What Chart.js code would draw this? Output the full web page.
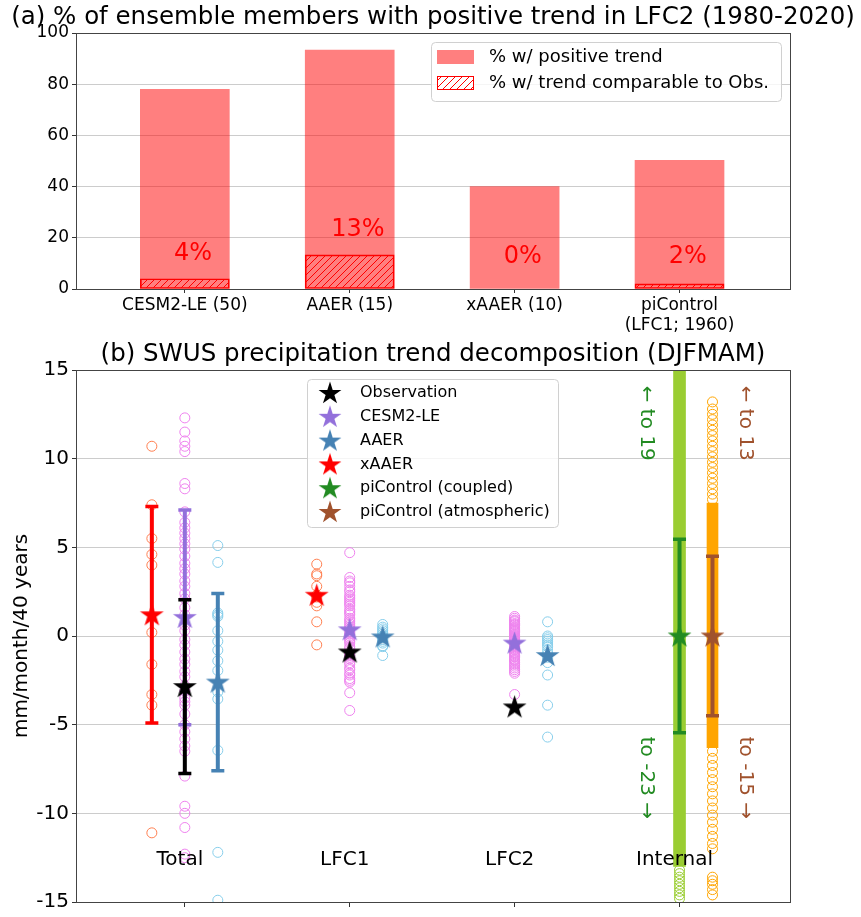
<!DOCTYPE html>
<html>
<head>
<meta charset="utf-8">
<script src="https://cdn.jsdelivr.net/npm/chart.js@4.4.1/dist/chart.umd.min.js"></script>
<style>
    html, body { margin: 0; padding: 0; background: #fff; }
    #wrap { position: relative; width: 861px; height: 917px; }
    #top-chart { position: absolute; left: 0; top: 0; }
    #bottom-chart { position: absolute; left: 0; top: 335px; }
</style>
</head>
<body>
<div id="wrap">
    <canvas id="top-chart" width="861" height="335"></canvas>
    <canvas id="bottom-chart" width="861" height="582"></canvas>
</div>
<script>
// Panel (a) - % of members with positive LFC2 trend
const models = ['CESM2-LE (50)', 'AAER (15)', 'xAAER (10)', ['piControl', '(LFC1; 1960)']];
const pctPositive = [78, 93.3, 40, 50.3];
const pctComparable = [4, 13.3, 0, 2];

// Panel (b) - trend decomposition
const components = ['Total', 'LFC1', 'LFC2', 'Internal'];

// ensemble members (Total / LFC1 / LFC2)
const xaaerTotal = [10.7, 7.4, 5.5, 4.6, 4.0, 0.2, -1.6, -3.3, -3.9, -11.1];
const xaaerLfc1 = [4.05, 3.5, 3.4, 2.8, 2.3, 2.2, 1.9, 1.7, 0.8, -0.5];

const cesmTotal = [12.3, 11.5, 11.0, 10.7, 10.4, 8.6, 8.3, 7.0, 6.4, 6.1,
    5.8, 5.5, 5.2, 4.9, 4.5, 4.1, 3.8, 3.5, 3.1, 2.8,
    2.4, 2.1, 1.6, 1.2, 0.6, 0.3, -0.2, -0.5, -0.9, -1.3,
    -1.6, -2.0, -2.3, -2.8, -3.1, -3.5, -3.7, -3.9, -4.4, -5.0,
    -5.4, -5.8, -6.2, -6.5, -7.9, -9.6, -10.0, -10.8, -12.3, -12.5];
const cesmLfc1 = [4.7, 3.3, 3.1, 3.0, 2.8, 2.6, 2.5, 2.3, 2.2, 2.0,
    1.8, 1.7, 1.5, 1.3, 1.2, 1.0, 0.8, 0.7, 0.5, 0.4,
    0.2, 0.1, 0.0, -0.1, -0.3, -0.4, -0.6, -0.7, -0.9, -1.0,
    -1.2, -1.3, -1.5, -1.6, -1.8, -1.9, -2.1, -2.2, -2.4, -2.5,
    -2.6, -3.2, -4.2, 0.9, 1.4, -0.2, 0.6, -1.1, 2.1, 1.9];
const cesmLfc2 = [1.1, 1.0, 0.9, 0.8, 0.7, 0.6, 0.5, 0.4, 0.3, 0.2,
    0.1, 0.0, -0.1, -0.2, -0.3, -0.4, -0.5, -0.6, -0.7, -0.8,
    -0.9, -1.0, -1.1, -1.2, -1.3, -1.4, -1.5, -1.6, -1.7, -1.8,
    -1.9, -2.0, -2.1, -3.3, 0.85, 0.65, 0.45, 0.25, 0.05, -0.15,
    -0.35, -0.55, -0.75, -0.95, -1.15, -1.35, -0.05, -0.45, 0.35, -0.25];

const aaerTotal = [5.1, 4.15, 1.3, 1.2, 1.1, 0.3, -0.3, -0.8, -1.4, -1.95, -3.15, -3.55, -6.45, -12.2, -14.9];
const aaerLfc1 = [0.65, 0.5, 0.4, 0.3, 0.2, 0.1, 0.0, -0.05, -0.1, -0.2, -0.3, -0.4, -0.55, -0.6, -1.1];
const aaerLfc2 = [0.8, 0.0, -0.1, -0.2, -0.3, -0.4, -0.5, -0.6, -0.8, -1.0, -1.2, -1.5, -2.2, -3.9, -5.7];

// piControl members: dense core drawn as a band, sparse tails as circles
const coupledRange = [-23, 19];
const atmosRange = [-15, 13];
const coupledCore = [-13, 19];
const atmosCore = [-6.3, 7.5];
const coupledTail = [-13.2, -13.4, -13.6, -13.8, -14.0, -14.2, -14.4, -14.6, -14.8];
const atmosTail = [13.2, 12.8, 12.5, 12.2, 11.9, 11.6, 11.3, 11.0, 10.7, 10.4,
    10.1, 9.8, 9.5, 9.2, 8.9, 8.6, 8.3, 8.0, 7.7,
    -6.5, -6.9, -7.3, -7.7, -8.1, -8.5, -8.9, -9.3, -9.7, -10.1,
    -10.5, -10.9, -11.3, -11.7, -12.0, -13.6, -13.8, -14.0, -14.3, -14.6];

// ensemble means and spread (error bar half length), by component
const obsTrend = [-2.85, -0.9, -4.0];
const obsSpread = [4.9, null, null];
const cesmMean = [1.05, 0.35, -0.4];
const cesmSpread = [6.05, null, null];
const aaerMean = [-2.6, -0.05, -1.1];
const aaerSpread = [5.0, null, null];
const xaaerMean = [1.2, 2.3];
const xaaerSpread = [6.1, null];
const piMean = [0, 0];          // coupled, atmospheric
const piSpread = [5.45, 4.5];

const colors = {
    bar: 'rgba(255, 0, 0, 0.5)',
    obs: '#000000',
    cesm: '#9370DB',
    aaer: '#4682B4',
    xaaer: '#FF0000',
    coupled: '#228B22',
    atmos: '#A0522D',
    cesmDots: '#EE82EE',
    aaerDots: '#87CEEB',
    xaaerDots: '#FF7F50',
    coupledBand: '#9ACD32',
    atmosBand: '#FFA500'
};

const FONT = '"DejaVu Sans", sans-serif';
Chart.defaults.font.family = FONT;
Chart.defaults.color = '#000';

function makeHatch() {
    const c = document.createElement('canvas');
    c.width = c.height = 7;
    const g = c.getContext('2d');
    g.strokeStyle = 'red';
    g.lineWidth = 1;
    g.beginPath();
    g.moveTo(-1, 8); g.lineTo(8, -1);
    g.moveTo(-1, 1); g.lineTo(1, -1);
    g.moveTo(6, 8); g.lineTo(8, 6);
    g.stroke();
    return g.createPattern(c, 'repeat');
}

function starImage(color, r) {
    const c = document.createElement('canvas');
    const size = Math.ceil(r * 2 + 2);
    c.width = c.height = size;
    const g = c.getContext('2d');
    const cx = size / 2, cy = size / 2 + r * 0.05;
    g.beginPath();
    for (let k = 0; k < 10; k++) {
        const rad = k % 2 === 0 ? r : r * 0.382;
        const a = -Math.PI / 2 + k * Math.PI / 5;
        g.lineTo(cx + rad * Math.cos(a), cy + rad * Math.sin(a));
    }
    g.closePath();
    g.fillStyle = color;
    g.fill();
    return c;
}

// box around the axes
const frameBox = {
    id: 'frameBox',
    afterDatasetsDraw(chart) {
        const {ctx, chartArea: a} = chart;
        ctx.save();
        ctx.strokeStyle = '#444';
        ctx.lineWidth = 1;
        ctx.strokeRect(Math.round(a.left) + 0.5, Math.round(a.top) + 0.5,
            Math.round(a.right - a.left), Math.round(a.bottom - a.top));
        ctx.restore();
    }
};

function drawTitle(chart, text, y) {
    const {ctx, chartArea: a} = chart;
    ctx.save();
    ctx.font = '24.5px ' + FONT;
    ctx.fillStyle = '#000';
    ctx.textAlign = 'center';
    ctx.textBaseline = 'middle';
    ctx.fillText(text, (a.left + a.right) / 2, y);
    ctx.restore();
}

function legendBox(ctx, x, y, w, h) {
    ctx.save();
    ctx.beginPath();
    ctx.roundRect(x + 0.5, y + 0.5, w, h, 4);
    ctx.fillStyle = 'rgba(255,255,255,0.8)';
    ctx.fill();
    ctx.strokeStyle = '#d0d0d0';
    ctx.lineWidth = 1;
    ctx.stroke();
    ctx.restore();
}

const hatch = makeHatch();

// ---------------- panel (a) ----------------
const topDecor = {
    id: 'topDecor',
    afterDatasetsDraw(chart) {
        const {ctx, scales: {x, y}} = chart;
        drawTitle(chart, '(a) % of ensemble members with positive trend in LFC2 (1980-2020)', 18);

        // percentages of comparable members
        ctx.save();
        ctx.font = '24px ' + FONT;
        ctx.fillStyle = 'red';
        ctx.textAlign = 'center';
        ctx.textBaseline = 'middle';
        pctComparable.forEach((v, i) => {
            ctx.fillText(Math.round(v) + '%', x.getPixelForValue(i + 0.05), y.getPixelForValue(Math.max(v + 9.7, 12.5)));
        });
        ctx.restore();

        // legend
        legendBox(ctx, 431, 42, 350, 59);
        ctx.save();
        ctx.fillStyle = colors.bar;
        ctx.fillRect(437, 50, 37, 14);
        ctx.fillStyle = '#fff';
        ctx.fillRect(437, 76, 37, 14);
        ctx.fillStyle = hatch;
        ctx.fillRect(437, 76, 37, 14);
        ctx.strokeStyle = 'red';
        ctx.lineWidth = 1;
        ctx.strokeRect(437.5, 76.5, 36, 13);
        ctx.font = '18px ' + FONT;
        ctx.fillStyle = '#000';
        ctx.textBaseline = 'middle';
        ctx.fillText('% w/ positive trend', 489, 57);
        ctx.fillText('% w/ trend comparable to Obs.', 489, 83);
        ctx.restore();
    }
};

new Chart(document.getElementById('top-chart'), {
    type: 'bar',
    data: {
        datasets: [{
            label: '% w/ positive trend',
            data: pctPositive.map((v, i) => ({x: i, y: v})),
            backgroundColor: colors.bar,
            barThickness: 89,
            grouped: false,
            order: 2
        }, {
            label: '% w/ trend comparable to Obs.',
            data: pctComparable.map((v, i) => ({x: i, y: v})),
            backgroundColor: hatch,
            borderColor: 'red',
            borderWidth: 1,
            borderSkipped: false,
            barThickness: 89,
            grouped: false,
            order: 1
        }]
    },
    options: {
        responsive: false,
        animation: false,
        events: [],
        devicePixelRatio: 1,
        layout: { padding: { top: 33, right: 71, left: 0, bottom: 0 } },
        plugins: { legend: { display: false }, tooltip: { enabled: false } },
        scales: {
            x: {
                type: 'linear', min: -0.66, max: 3.67, offset: false,
                grid: { drawOnChartArea: false, offset: false, tickLength: 4, color: '#333' },
                border: { display: false },
                ticks: {
                    stepSize: 1, includeBounds: false, autoSkip: false, maxRotation: 0,
                    padding: 2, font: { size: 17 }, color: '#000',
                    callback: v => models[v] ?? ''
                },
                afterFit: s => { s.height = 46; }
            },
            y: {
                min: 0, max: 100,
                grid: { color: '#cccccc', tickLength: 4, tickColor: '#333' },
                border: { display: false },
                ticks: { stepSize: 20, padding: 3, font: { size: 17 }, color: '#000' },
                afterFit: s => { s.width = 76; }
            }
        }
    },
    plugins: [frameBox, topDecor]
});

// ---------------- panel (b) ----------------
const offsets = { left: -0.2, mid: 0, right: 0.2 };

function dotSet(values, comp, offset, color) {
    return {
        type: 'scatter',
        data: values.map(v => ({x: comp + offset, y: v})),
        pointStyle: 'circle',
        pointRadius: 5,
        borderWidth: 1,
        borderColor: color,
        backgroundColor: 'rgba(0,0,0,0)',
        clip: 0
    };
}

function bandSet(range, comp, offset, color, width) {
    return {
        type: 'bar',
        data: [{x: comp + offset, y: range}],
        backgroundColor: color,
        barThickness: width,
        grouped: false,
        clip: 0
    };
}

function starSet(label, means, spread, offset, color, firstComp = 0) {
    return {
        type: 'scatter',
        label: label,
        data: means.map((m, i) => ({x: firstComp + i + offset, y: m})),
        spread: spread,
        barColor: color,
        pointStyle: starImage(color, 12.5),
        pointRadius: 12,
        clip: 0
    };
}

const datasets = [
    dotSet(xaaerTotal, 0, offsets.left, colors.xaaerDots),
    dotSet(xaaerLfc1, 1, offsets.left, colors.xaaerDots),
    dotSet(cesmTotal, 0, offsets.mid, colors.cesmDots),
    dotSet(cesmLfc1, 1, offsets.mid, colors.cesmDots),
    dotSet(cesmLfc2, 2, offsets.mid, colors.cesmDots),
    dotSet(aaerTotal, 0, offsets.right, colors.aaerDots),
    dotSet(aaerLfc1, 1, offsets.right, colors.aaerDots),
    dotSet(aaerLfc2, 2, offsets.right, colors.aaerDots),
    bandSet(coupledCore, 3, offsets.mid, colors.coupledBand, 12),
    dotSet(coupledTail, 3, offsets.mid, colors.coupledBand),
    bandSet(atmosCore, 3, offsets.right, colors.atmosBand, 11),
    dotSet(atmosTail, 3, offsets.right, colors.atmosBand),
    starSet('xAAER', xaaerMean, xaaerSpread, offsets.left, colors.xaaer),
    starSet('CESM2-LE', cesmMean, cesmSpread, offsets.mid, colors.cesm),
    starSet('AAER', aaerMean, aaerSpread, offsets.right, colors.aaer),
    starSet('Observation', obsTrend, obsSpread, offsets.mid, colors.obs),
    starSet('piControl (coupled)', [piMean[0]], [piSpread[0]], offsets.mid, colors.coupled, 3),
    starSet('piControl (atmospheric)', [piMean[1]], [piSpread[1]], offsets.right, colors.atmos, 3)
];
// first in the list is drawn first (underneath)
datasets.forEach((d, i) => { d.order = datasets.length - i; });

const legendItems = [
    ['Observation', colors.obs],
    ['CESM2-LE', colors.cesm],
    ['AAER', colors.aaer],
    ['xAAER', colors.xaaer],
    ['piControl (coupled)', colors.coupled],
    ['piControl (atmospheric)', colors.atmos]
];

const errorBars = {
    id: 'errorBars',
    beforeDatasetDraw(chart, args) {
        const ds = chart.data.datasets[args.index];
        if (!ds.spread) return;
        const {ctx, chartArea: a, scales: {x, y}} = chart;
        ctx.save();
        ctx.beginPath();
        ctx.rect(a.left, a.top, a.right - a.left, a.bottom - a.top);
        ctx.clip();
        ctx.strokeStyle = ds.barColor;
        ds.data.forEach((p, i) => {
            const s = ds.spread[i];
            if (s == null) return;
            const px = x.getPixelForValue(p.x);
            const top = y.getPixelForValue(p.y + s);
            const bot = y.getPixelForValue(p.y - s);
            ctx.lineWidth = 4;
            ctx.beginPath();
            ctx.moveTo(px, top); ctx.lineTo(px, bot);
            ctx.stroke();
            ctx.lineWidth = 3.5;
            ctx.beginPath();
            ctx.moveTo(px - 6.5, top); ctx.lineTo(px + 6.5, top);
            ctx.moveTo(px - 6.5, bot); ctx.lineTo(px + 6.5, bot);
            ctx.stroke();
        });
        ctx.restore();
    }
};

const bottomDecor = {
    id: 'bottomDecor',
    afterDatasetsDraw(chart) {
        const {ctx, scales: {x, y}} = chart;
        drawTitle(chart, '(b) SWUS precipitation trend decomposition (DJFMAM)', 20);

        ctx.save();
        ctx.font = '20px ' + FONT;
        ctx.textAlign = 'center';
        ctx.textBaseline = 'middle';
        ctx.fillStyle = '#000';
        components.forEach((c, i) => {
            ctx.fillText(c, x.getPixelForValue(i - 0.03), y.getPixelForValue(-12.6));
        });

        // range notes for piControl members beyond the axis
        const notes = [
            ['\u2190 to ' + coupledRange[1], 2.8, 12, colors.coupled],
            ['\u2190 to ' + atmosRange[1], 3.4, 12, colors.atmos],
            ['to ' + coupledRange[0] + ' \u2192', 2.8, -8, colors.coupled],
            ['to ' + atmosRange[0] + ' \u2192', 3.4, -8, colors.atmos]
        ];
        notes.forEach(([t, nx, ny, col]) => {
            ctx.save();
            ctx.translate(x.getPixelForValue(nx), y.getPixelForValue(ny));
            ctx.rotate(Math.PI / 2);
            ctx.fillStyle = col;
            ctx.fillText(t, 0, 0);
            ctx.restore();
        });
        ctx.restore();

        // legend
        legendBox(ctx, 307, 44, 251, 148);
        ctx.save();
        ctx.font = '16px ' + FONT;
        ctx.textBaseline = 'middle';
        ctx.fillStyle = '#000';
        legendItems.forEach(([name, col], i) => {
            const ly = 58 + i * 23.8;
            const img = starImage(col, 12);
            ctx.drawImage(img, 330 - img.width / 2, ly - img.height / 2);
            ctx.fillText(name, 360, ly);
        });
        ctx.restore();
    }
};

new Chart(document.getElementById('bottom-chart'), {
    type: 'scatter',
    data: { datasets: datasets },
    options: {
        responsive: false,
        animation: false,
        events: [],
        devicePixelRatio: 1,
        layout: { padding: { top: 35, right: 71, left: 0, bottom: 0 } },
        plugins: { legend: { display: false }, tooltip: { enabled: false } },
        scales: {
            x: {
                type: 'linear', min: -0.66, max: 3.67, offset: false,
                grid: { drawOnChartArea: false, offset: false, tickLength: 5, color: '#333' },
                border: { display: false },
                ticks: { stepSize: 1, includeBounds: false, autoSkip: false, padding: 0, callback: () => '' },
                afterFit: s => { s.height = 13; }
            },
            y: {
                min: -15, max: 15,
                grid: { color: '#cccccc', tickLength: 4, tickColor: '#333' },
                border: { display: false },
                ticks: { stepSize: 5, padding: 3, font: { size: 20 }, color: '#000' },
                title: { display: true, text: 'mm/month/40 years', font: { size: 20 }, padding: { top: 10, bottom: 0 } },
                afterFit: s => { s.width = 76; }
            }
        }
    },
    plugins: [errorBars, frameBox, bottomDecor]
});
</script>
</body>
</html>
